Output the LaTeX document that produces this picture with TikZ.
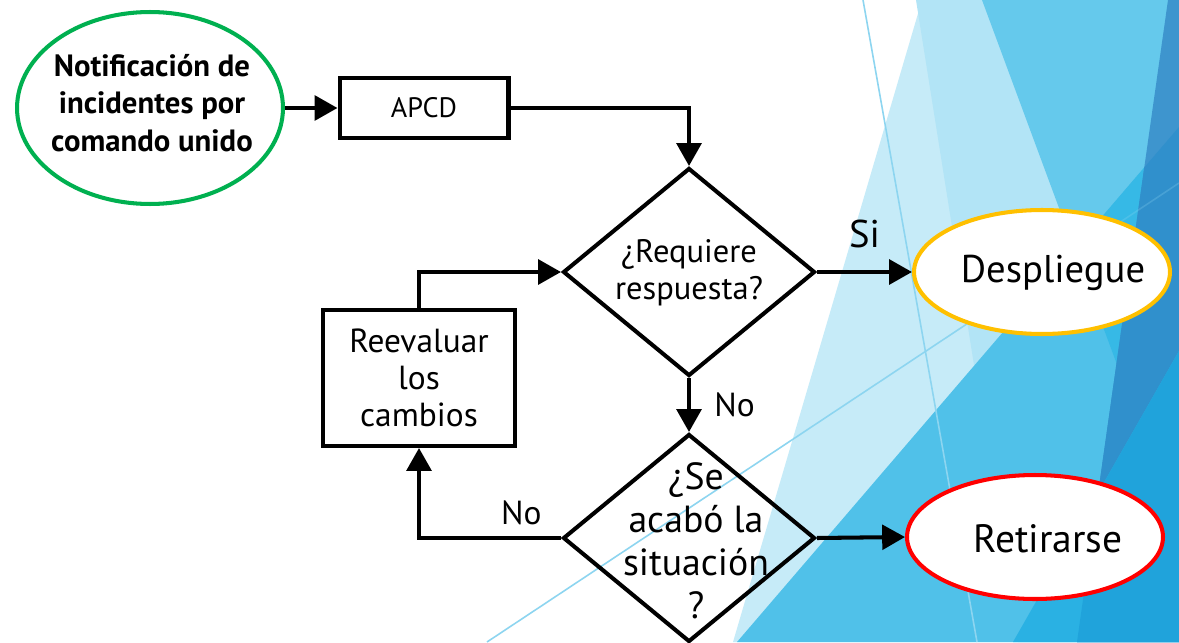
\documentclass[tikz,border=0pt]{standalone}
\usepackage{amsmath}
\usepackage{fontspec}
\setmainfont{PT Sans}
\usepackage{tikz}
\usetikzlibrary{positioning}
\usetikzlibrary{shapes.geometric}
\usetikzlibrary{arrows.meta}
\usepackage{color}

\definecolor{fondoA}{HTML}{C6EBF8}
\definecolor{fondoB}{HTML}{B2E4F6}
\definecolor{fondoC}{HTML}{65C9EC}
\definecolor{fondoD}{HTML}{50C1E9}
\definecolor{fondoE}{HTML}{36B9E6}
\definecolor{fondoF}{HTML}{3E95CE}
\definecolor{fondoG}{HTML}{3090CC}
\definecolor{fondoH}{HTML}{2AB1E3}
\definecolor{fondoI}{HTML}{20A3DB}
\definecolor{lineaazul}{HTML}{8DD5F0}
\definecolor{verde}{HTML}{00B050}
\definecolor{amarillo}{HTML}{FFC000}
\definecolor{rojo}{HTML}{FF0000}

\begin{document}
\begin{tikzpicture}[x=0.02cm, y=-0.02cm,
  flecha/.style={line width=2.3pt, -{Triangle[length=13pt, width=14pt]}},
  caja/.style={draw, line width=2.3pt, fill=white, align=center},
  rombo/.style={draw, diamond, line width=2.3pt, minimum width=5.04cm, minimum height=4.16cm, inner sep=0pt},
  ovalo/.style={draw, ellipse, line width=2.3pt, fill=white, inner sep=0pt, minimum width=5.12cm, minimum height=2.48cm},
  linea/.style={lineaazul, line width=0.9pt}]
\useasboundingbox (0,0) rectangle (1179,642);
\fill [white] (0,0) rectangle (1179,642);

% fondo
\fill [fondoA] (922,0) -- (1179,0) -- (1179,642) -- (733,642) -- cycle;
\fill [fondoB] (916,0) -- (1179,0) -- (1179,642) -- (1018,642) -- cycle;
\fill [fondoC] (982,0) -- (1179,0) -- (1179,532) -- cycle;
\fill [fondoD] (1179,127) -- (1179,642) -- (737,642) -- cycle;
\begin{scope}
\clip (1179,127) -- (1179,642) -- (737,642) -- cycle;
\fill [fondoE] (982,0) -- (1179,0) -- (1179,532) -- cycle;
\end{scope}
\fill [fondoF] (1168,0) -- (1179,0) -- (1179,642) -- (1077,642) -- cycle;
\begin{scope}
\clip (1179,127) -- (1179,642) -- (737,642) -- cycle;
\fill [fondoG] (1168,0) -- (1179,0) -- (1179,642) -- (1077,642) -- cycle;
\end{scope}
\fill [fondoH] (1179,351) -- (1179,642) -- (1013,642) -- cycle;
\begin{scope}
\clip (1179,351) -- (1179,642) -- (1013,642) -- cycle;
\fill [fondoI] (1168,0) -- (1179,0) -- (1179,642) -- (1077,642) -- cycle;
\end{scope}
\draw [linea] (863,0) -- (977,642);
\draw [linea] (487,642) -- (1000,302);
\draw [linea, opacity=0.25] (1000,302) -- (1179,183);

% diagrama
\node [ovalo, draw=verde, minimum width=5.32cm, minimum height=3.84cm] (notif) at (150,108) {};
\node [font=\bfseries\fontsize{17.5}{21.3}\selectfont, align=center] (notiftxt) at (152,103) {Notificaci\'on de\\incidentes por\\comando unido};
\node [caja, minimum width=3.38cm, minimum height=1.2cm, font=\fontsize{16}{18}\selectfont] (apcd) at (424,108) {APCD};
\node [rombo] (req) at (689,272) {};
\node [font=\fontsize{18.5}{21}\selectfont, align=center] (reqtxt) at (689,273) {¿Requiere\\respuesta?};
\node [ovalo, draw=amarillo] (desp) at (1042,272) {};
\node [font=\fontsize{22}{26}\selectfont] (desptxt) at (1053,273) {Despliegue};
\node [rombo] (fin) at (689,538) {};
\node [font=\fontsize{21.5}{24.5}\selectfont, align=center] (fintxt) at (696,541) {¿Se\\acab\'o la\\situaci\'on\\?};
\node [ovalo, draw=rojo] (ret) at (1035,537) {};
\node [font=\fontsize{22.5}{26}\selectfont] (rettxt) at (1048,539) {Retirarse};
\node [caja, minimum width=3.84cm, minimum height=2.72cm, font=\fontsize{19}{21}\selectfont] (reev) at (419,378) {Reevaluar\\los\\cambios};

\draw [flecha] (notif) -- (apcd);
\draw [flecha] (apcd.east) -| (req.north);
\draw [flecha] (req.east) -- node [above=9pt, font=\fontsize{22}{26}\selectfont] (si) {Si} (desp.west);
\draw [flecha] (req.south) -- node [right=10pt, font=\fontsize{19}{21}\selectfont] (no1) {No} (fin.north);
\draw [flecha] (fin.east) -- (ret.west);
\draw [flecha] (fin.west) -| node [pos=0.14, above=3pt, font=\fontsize{19}{21}\selectfont] (no2) {No} (reev.south);
\draw [flecha] (reev.north) |- (req.west);
\end{tikzpicture}
\end{document}
